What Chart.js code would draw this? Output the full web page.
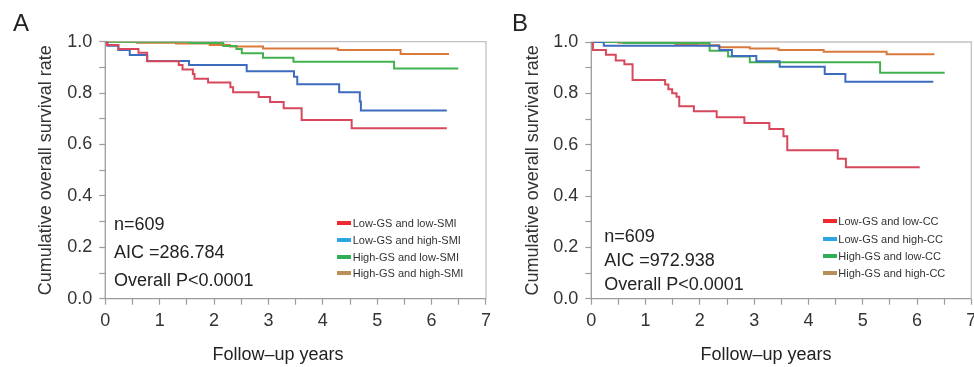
<!DOCTYPE html>
<html>
<head>
<meta charset="utf-8">
<script src="https://cdn.jsdelivr.net/npm/chart.js@4.4.1/dist/chart.umd.min.js"></script>
<style>
  html, body { margin: 0; padding: 0; background: #fff; overflow: hidden; }
  #wrap { position: relative; width: 974px; height: 367px; overflow: hidden;
          font-family: 'Liberation Sans', Arial, sans-serif; color: #222; }
  canvas { position: absolute; top: 0; }
  .txt { position: absolute; white-space: nowrap; }
  .big { font-size: 24px; line-height: 24px; }
  .note { font-size: 18px; line-height: 18px; }
  .leg { font-size: 11px; line-height: 12px; color: #333; }
  .sw { position: absolute; width: 14px; height: 4px; }
</style>
</head>
<body>
<div id="wrap">
  <canvas id="chartA" width="497" height="367" style="left:0"></canvas>
  <canvas id="chartB" width="497" height="367" style="left:487px"></canvas>
</div>
<script>
// ---- data ----
const xTicks = [0, 1, 2, 3, 4, 5, 6, 7];
const yTicks = [0.0, 0.2, 0.4, 0.6, 0.8, 1.0];
const xTitle = 'Follow\u2013up years';
const yTitle = 'Cumulative overall survival rate';

// panel A
const aLabels = ['Low-GS and low-SMI', 'Low-GS and high-SMI', 'High-GS and low-SMI', 'High-GS and high-SMI'];
const aNotes = ['n=609', 'AIC =286.784', 'Overall P<0.0001'];
const aRedT = [0, 0.03, 0.24, 0.61, 0.77, 1.35, 1.42, 1.61, 1.64, 1.89, 2.30, 2.35, 2.82, 3.03, 3.28, 3.61, 4.53, 6.28];
const aRedS = [1, 0.987, 0.972, 0.957, 0.924, 0.909, 0.892, 0.874, 0.856, 0.841, 0.823, 0.803, 0.785, 0.765, 0.741, 0.695, 0.663, 0.663];
const aBlueT = [0, 0.04, 0.24, 0.45, 0.77, 1.54, 2.60, 3.47, 3.53, 4.30, 4.68, 4.70, 6.28];
const aBlueS = [1, 0.984, 0.968, 0.948, 0.925, 0.909, 0.885, 0.864, 0.834, 0.803, 0.767, 0.732, 0.732];
const aGreenT = [0, 1.56, 2.17, 2.41, 2.51, 2.90, 3.46, 5.31, 6.49];
const aGreenS = [1, 0.995, 0.983, 0.972, 0.955, 0.938, 0.922, 0.896, 0.896];
const aOrangeT = [0, 0.58, 1.30, 1.92, 2.29, 2.90, 4.28, 5.43, 6.32];
const aOrangeS = [1, 0.996, 0.993, 0.987, 0.981, 0.974, 0.968, 0.952, 0.952];

// panel B
const bLabels = ['Low-GS and low-CC', 'Low-GS and high-CC', 'High-GS and low-CC', 'High-GS and high-CC'];
const bNotes = ['n=609', 'AIC =972.938', 'Overall P<0.0001'];
const bRedT = [0, 0.03, 0.27, 0.45, 0.61, 0.76, 1.36, 1.42, 1.49, 1.57, 1.62, 1.89, 2.31, 2.82, 3.28, 3.54, 3.61, 4.54, 4.69, 6.05];
const bRedS = [1, 0.969, 0.950, 0.928, 0.913, 0.852, 0.834, 0.816, 0.800, 0.787, 0.750, 0.730, 0.707, 0.684, 0.661, 0.633, 0.578, 0.545, 0.512, 0.512];
const bBlueT = [0, 0.23, 2.36, 2.59, 3.04, 3.47, 4.30, 4.68, 6.30];
const bBlueS = [1, 0.985, 0.969, 0.945, 0.925, 0.904, 0.875, 0.845, 0.845];
const bGreenT = [0, 0.59, 2.18, 2.52, 2.92, 5.32, 6.51];
const bGreenS = [1, 0.996, 0.966, 0.944, 0.921, 0.880, 0.880];
const bOrangeT = [0, 0.50, 1.55, 1.95, 2.35, 2.92, 3.45, 4.28, 5.44, 6.32];
const bOrangeS = [1, 0.997, 0.992, 0.987, 0.980, 0.975, 0.969, 0.962, 0.952, 0.952];

const lineColors = ['#d8485c', '#3d6cbe', '#41b24f', '#d97a3c'];
const legendColors = ['#ee2a30', '#2ba6e0', '#2eae57', '#b98f57'];

(function () {
   const FONT = "'Liberation Sans', Arial, sans-serif";
   const wrap = document.getElementById('wrap');

   // draws the box round the plot (left/bottom darker, top/right lighter)
   const framePlugin = {
      id: 'frame',
      beforeDatasetsDraw(chart) {
         const { ctx, chartArea: a } = chart;
         ctx.save();
         ctx.lineWidth = 1.3;
         ctx.strokeStyle = '#c2c2c2';
         ctx.beginPath();
         ctx.moveTo(a.left, a.top); ctx.lineTo(a.right, a.top); ctx.lineTo(a.right, a.bottom);
         ctx.stroke();
         ctx.strokeStyle = '#9c9c9c';
         ctx.beginPath();
         ctx.moveTo(a.left, a.top); ctx.lineTo(a.left, a.bottom); ctx.lineTo(a.right, a.bottom);
         ctx.stroke();
         ctx.restore();
      }
   };

   function makeChart(id, times, surv, geo) {
      const datasets = times.map((t, i) => ({
         label: geo.labels[i],
         data: t.map((x, k) => ({ x: x, y: surv[i][k] })),
         borderColor: lineColors[i],
         backgroundColor: lineColors[i],
         borderWidth: 2,
         pointRadius: 0,
         stepped: true,
         fill: false
      }));

      return new Chart(document.getElementById(id), {
         type: 'line',
         data: { datasets: datasets },
         options: {
            responsive: false,
            animation: false,
            devicePixelRatio: 1,
            layout: { padding: { top: geo.top, right: geo.right, left: 0, bottom: 0 } },
            plugins: { legend: { display: false }, tooltip: { enabled: false } },
            scales: {
               x: {
                  type: 'linear', min: 0, max: 7,
                  border: { display: false },
                  grid: { drawOnChartArea: false, drawTicks: true, tickLength: 6, tickColor: '#9c9c9c', tickWidth: 1.2 },
                  ticks: {
                     stepSize: 0.5, autoSkip: false, maxRotation: 0, padding: 6,
                     color: '#333', font: { family: FONT, size: 18 },
                     callback: v => xTicks.includes(v) ? String(v) : ''
                  },
                  afterFit: s => { s.height = 367 - geo.bottom; }
               },
               y: {
                  min: 0, max: 1,
                  border: { display: false },
                  grid: { drawOnChartArea: false, drawTicks: true, tickLength: 6, tickColor: '#9c9c9c', tickWidth: 1.2 },
                  ticks: {
                     stepSize: 0.1, autoSkip: false, padding: 7,
                     color: '#333', font: { family: FONT, size: 18 },
                     callback: v => {
                        const r = Math.round(v * 10) / 10;
                        return yTicks.some(t => Math.abs(t - r) < 1e-9) ? r.toFixed(1) : '';
                     }
                  },
                  title: {
                     display: true, text: yTitle, color: '#333',
                     font: { family: FONT, size: 18 }, padding: { top: 35.5, bottom: 0 }
                  },
                  afterFit: s => { s.width = geo.left; }
               }
            }
         },
         plugins: [framePlugin]
      });
   }

   function addText(cls, text, left, top) {
      const d = document.createElement('div');
      d.className = 'txt ' + cls;
      d.textContent = text;
      d.style.left = left + 'px';
      d.style.top = top + 'px';
      wrap.appendChild(d);
   }

   function addLegend(labels, swLeft, txtLeft, centers) {
      labels.forEach((lab, i) => {
         const sw = document.createElement('div');
         sw.className = 'sw';
         sw.style.left = swLeft + 'px';
         sw.style.top = (centers[i] - 2) + 'px';
         sw.style.background = legendColors[i];
         wrap.appendChild(sw);
         addText('leg', lab, txtLeft, centers[i] - 5.8);
      });
   }

   function init() {
      makeChart('chartA',
         [aRedT, aBlueT, aGreenT, aOrangeT],
         [aRedS, aBlueS, aGreenS, aOrangeS],
         { labels: aLabels, top: 41.7, bottom: 298.7, left: 105.3, right: 11 });
      makeChart('chartB',
         [bRedT, bBlueT, bGreenT, bOrangeT],
         [bRedS, bBlueS, bGreenS, bOrangeS],
         { labels: bLabels, top: 42, bottom: 298.7, left: 104.3, right: 12.7 });

      // panel letters
      addText('big', 'A', 13, 10.5);
      addText('big', 'B', 512, 10.5);

      // x axis titles (sit left of the plot centre in the original)
      addText('note', xTitle, 0, 344.6);
      addText('note', xTitle, 0, 344.6);
      const titles = wrap.querySelectorAll('.note');
      titles[0].style.left = (278 - titles[0].offsetWidth / 2) + 'px';
      titles[1].style.left = (766 - titles[1].offsetWidth / 2) + 'px';

      // n / AIC / P annotations
      const aBase = [230, 258, 286.5];
      const bBase = [242.7, 266.7, 290];
      aNotes.forEach((t, i) => addText('note', t, 114, aBase[i] - 15.35));
      bNotes.forEach((t, i) => addText('note', t, 604.3, bBase[i] - 15.35));

      addLegend(aLabels, 337, 352.7, [222.7, 240, 256.5, 272.7]);
      addLegend(bLabels, 823.3, 838.3, [221, 238.5, 256, 272.7]);
   }

   if (document.readyState === 'loading') {
      document.addEventListener('DOMContentLoaded', init);
   } else {
      init();
   }
})();
</script>
</body>
</html>
